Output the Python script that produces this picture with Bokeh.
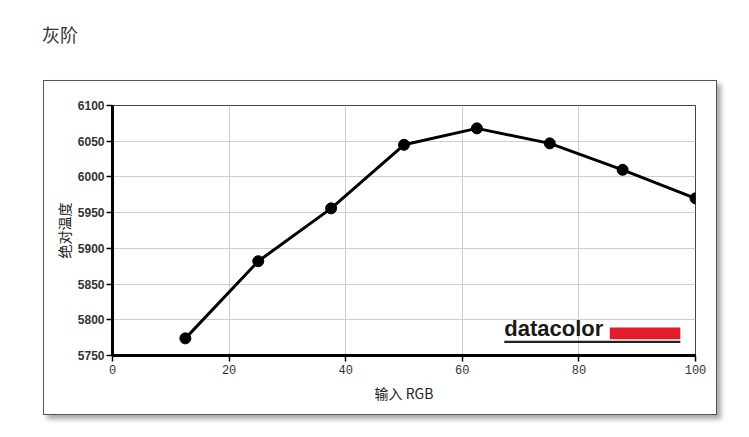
from bokeh.plotting import figure
from bokeh.models import BoxAnnotation, Label, Range1d, FixedTicker, Div
from bokeh.layouts import column
from bokeh.embed import file_html
from bokeh.resources import INLINE

# ---- data ----
input_rgb = [12.5, 25, 37.5, 50, 62.5, 75, 87.5, 100]
abs_temp = [5774, 5882, 5956, 6045, 6068, 6047, 6010, 5970]
x_ticks = [0, 20, 40, 60, 80, 100]
y_ticks = [5750, 5800, 5850, 5900, 5950, 6000, 6050, 6100]
title_text = "灰阶"
x_label = "输入 RGB"
y_label = "绝对温度"
logo_text = "datacolor"

p = figure(width=674, height=335, output_backend="svg", toolbar_location=None,
           x_range=Range1d(0, 100), y_range=Range1d(5750, 6100),
           min_border_left=68, min_border_right=23, min_border_top=24, min_border_bottom=61)
p.background_fill_color = "white"
p.border_fill_color = "white"
p.outline_line_color = "#444444"
p.outline_line_width = 1
p.margin = (0, 0, 0, 43)
p.styles = {"border": "1.5px solid #555555",
            "box-shadow": "4px 4px 5px rgba(0,0,0,0.35)"}

for ax in (p.xaxis, p.yaxis):
    ax.axis_line_width = 3
    ax.axis_line_color = "black"
    ax.major_tick_line_color = "black"
    ax.major_tick_line_width = 1.5
    ax.major_tick_out = 6
    ax.major_tick_in = 0
    ax.minor_tick_line_color = None
    ax.major_label_text_color = "#333333"
    ax.major_label_text_font_size = "12px"
    ax.axis_label_text_font = "Noto Sans CJK SC"
    ax.axis_label_text_font_style = "normal"
    ax.axis_label_text_font_size = "14px"
    ax.axis_label_text_color = "#222222"

p.xaxis.ticker = FixedTicker(ticks=x_ticks)
p.yaxis.ticker = FixedTicker(ticks=y_ticks)
p.xaxis.major_label_text_font = "Liberation Mono"
p.yaxis.major_label_text_font = "Liberation Sans"
p.yaxis.major_label_text_font_style = "bold"
p.xaxis.major_label_standoff = 3
p.yaxis.major_label_standoff = 2
p.xaxis.axis_label = x_label
p.yaxis.axis_label = y_label
p.xaxis.axis_label_standoff = 6
p.yaxis.axis_label_standoff = 1

p.xgrid.ticker = FixedTicker(ticks=x_ticks)
p.ygrid.ticker = FixedTicker(ticks=y_ticks)
p.grid.grid_line_color = "#cfcfcf"
p.grid.grid_line_width = 1

p.line(input_rgb, abs_temp, line_color="black", line_width=3)
p.scatter(input_rgb, abs_temp, size=11, fill_color="black", line_color="black")

# logo
p.add_layout(Label(x=67.2, y=5787.8, text=logo_text, text_font="Liberation Sans",
                   text_font_style="bold", text_font_size="22px", text_color="#1a1a1a",
                   text_baseline="alphabetic"))
p.add_layout(BoxAnnotation(left=85.3, right=97.4, bottom=5772.8, top=5789.2,
                           fill_color="#e31b2a", fill_alpha=1, line_color=None))
p.add_layout(BoxAnnotation(left=67.2, right=97.4, bottom=5767.5, top=5770.5,
                           fill_color="#222222", fill_alpha=1, line_color=None))

title = Div(text='<span style="font-family:\'Noto Sans CJK SC\';font-size:18px;color:#333333;">'
                 + title_text + '</span>',
            width=300, height=58, margin=(22, 0, 0, 42))

layout = column(title, p, spacing=0, margin=(0, 0, 0, 0))
open("out.html", "w").write(file_html(layout, INLINE))
